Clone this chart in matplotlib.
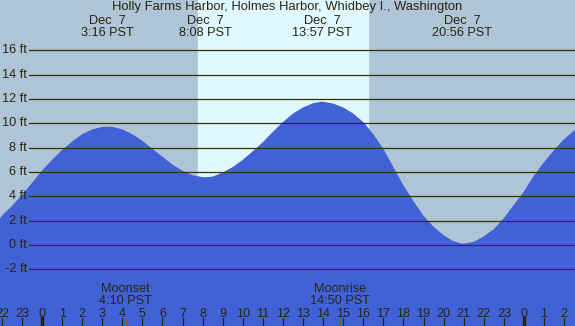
import matplotlib.pyplot as plt
from matplotlib.transforms import blended_transform_factory

# tide height (ft), hours since midnight Dec 7 (PST)
hours = [-2.1, -2, -1.5, -1, -0.5, 0, 0.5, 1, 1.5, 2, 2.5, 3, 3.27, 3.5, 4, 4.5,
         5, 5.5, 6, 6.5, 7, 7.5, 8, 8.13, 8.5, 9, 9.5, 10, 10.5, 11, 11.5, 12,
         12.5, 13, 13.5, 13.95, 14.5, 15, 15.5, 16, 16.5, 17, 17.5, 18, 18.5, 19,
         19.5, 20, 20.5, 20.93, 21.5, 22, 22.5, 23, 23.5, 24, 24.5, 25, 25.5, 26,
         26.5, 26.6]
heights = [2.2, 2.4, 3.2, 4.1, 5.1, 6.1, 7.0, 7.8, 8.5, 9.1, 9.5, 9.7, 9.72, 9.7,
           9.5, 9.1, 8.55, 7.9, 7.25, 6.6, 6.1, 5.73, 5.57, 5.56, 5.62, 5.95, 6.4,
           7.0, 7.7, 8.45, 9.3, 10.1, 10.8, 11.3, 11.65, 11.78, 11.62, 11.3, 10.8,
           10.1, 9.1, 7.9, 6.4, 4.9, 3.6, 2.4, 1.5, 0.8, 0.3, 0.1, 0.25, 0.7, 1.3,
           2.2, 3.3, 4.4, 5.7, 6.8, 7.8, 8.7, 9.4, 9.5]

extreme_hours = [3.267, 8.133, 13.95, 20.933]
extreme_dates = ['Dec  7', 'Dec  7', 'Dec  7', 'Dec  7']
extreme_times = ['3:16 PST', '8:08 PST', '13:57 PST', '20:56 PST']

sunrise = 7.77
sunset = 16.23

moon_hours = [4.167, 14.833]
moon_names = ['Moonset', 'Moonrise']
moon_times = ['4:10 PST', '14:50 PST']

ft_levels = [-2, 0, 2, 4, 6, 8, 10, 12, 14, 16]
hour_ticks = list(range(-2, 27))

title = 'Holly Farms Harbor, Holmes Harbor, Whidbey I., Washington'

night_col = '#b0c4d8'
day_col = '#e0f8ff'
water_col = '#4162d6'
line_col = '#333300'
text_col = '#262610'

plt.rcParams['font.family'] = ['Liberation Sans', 'DejaVu Sans']

fig = plt.figure(figsize=(5.75, 3.26), dpi=100)
ax = fig.add_axes([0, 0, 1, 1])
ax.set_xlim(-2.092, 26.544)
ax.set_ylim(-6.66, 20.13)
ax.axis('off')
fig.patch.set_facecolor(night_col)

ax.axvspan(sunrise, sunset, color=day_col, zorder=0)
ax.fill_between(hours, heights, -10, color=water_col, lw=0, zorder=1)

for lev in ft_levels:
    ax.axhline(lev, xmin=29 / 575, xmax=1, color=line_col, lw=0.9, zorder=2)
    ax.text(-2.092 + 27 / 20.08, lev, f'{lev} ft', ha='right', va='center',
            fontsize=9.2, color=text_col)

tr = blended_transform_factory(ax.transData, ax.transAxes)
H = 326.0

ax.text(0.5, 1 - 10 / H, title, transform=ax.transAxes, ha='center',
        va='baseline', fontsize=9.4, color=text_col)
for x, d, t in zip(extreme_hours, extreme_dates, extreme_times):
    ax.text(x, 1 - 24 / H, d, transform=tr, ha='center', va='baseline',
            fontsize=9.2, color=text_col)
    ax.text(x, 1 - 36 / H, t, transform=tr, ha='center', va='baseline',
            fontsize=9.2, color=text_col)

for x, n, t in zip(moon_hours, moon_names, moon_times):
    ax.text(x, 1 - 292 / H, n, transform=tr, ha='center', va='baseline',
            fontsize=9.2, color=text_col)
    ax.text(x, 1 - 304 / H, t, transform=tr, ha='center', va='baseline',
            fontsize=9.2, color=text_col)
    ax.plot([x, x], [0, 8 / H], transform=tr, color='#806030', lw=0.9,
            zorder=3)

for h in hour_ticks:
    ax.text(h, 1 - 317 / H, str(h % 24), transform=tr, ha='center',
            va='baseline', fontsize=9, color=text_col)
    lw = 2.5 if h % 24 == 0 else 0.9
    ax.plot([h, h], [0, 8 / H], transform=tr, color=text_col, lw=lw, zorder=3)

fig.savefig('out.png', dpi=100, facecolor=night_col)
